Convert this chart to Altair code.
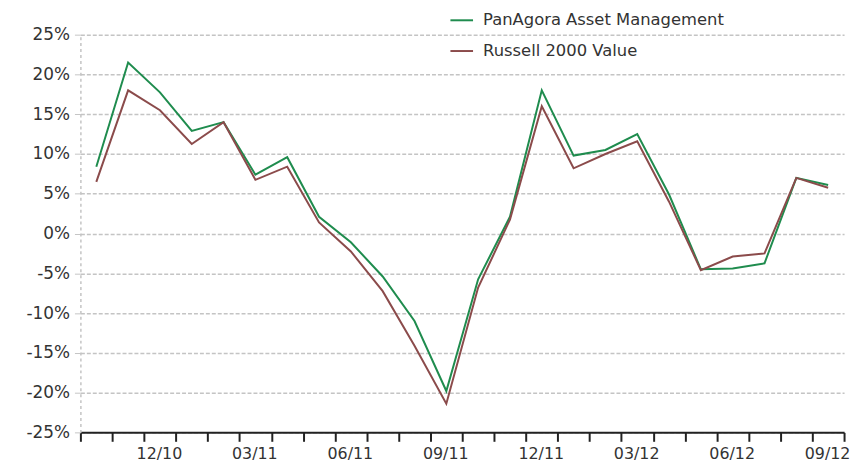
import altair as alt
import pandas as pd

months = ["10/10", "11/10", "12/10", "01/11", "02/11", "03/11", "04/11", "05/11",
          "06/11", "07/11", "08/11", "09/11", "10/11", "11/11", "12/11", "01/12",
          "02/12", "03/12", "04/12", "05/12", "06/12", "07/12", "08/12", "09/12"]
panagora = [8.4, 21.5, 17.75, 12.9, 14.0, 7.4, 9.6, 2.1, -1.1, -5.4, -11.0, -19.8,
            -5.75, 2.1, 18.0, 9.8, 10.5, 12.5, 4.9, -4.5, -4.4, -3.75, 7.0, 6.1]
russell = [6.5, 18.0, 15.5, 11.25, 14.0, 6.75, 8.4, 1.4, -2.25, -7.25, -14.1, -21.4,
           -6.8, 1.75, 16.0, 8.2, 10.0, 11.6, 4.0, -4.6, -2.9, -2.5, 7.0, 5.75]
series_names = ["PanAgora Asset Management", "Russell 2000 Value"]
series_colors = ["#1f8c4e", "#8b4b4b"]
label_months = ["12/10", "03/11", "06/11", "09/11", "12/11", "03/12", "06/12", "09/12"]

rows = []
for name, vals in zip(series_names, [panagora, russell]):
    for i, (m, v) in enumerate(zip(months, vals)):
        rows.append({"series": name, "month": m, "pos": i + 0.5, "value": v})
df = pd.DataFrame(rows)

label_map = {months.index(m): m for m in label_months}
label_expr = " : ".join(
    [f"datum.value == {k} ? '{v}'" for k, v in label_map.items()] + ["''"])

FONT = "DejaVu Sans"

chart = alt.Chart(df).mark_line(strokeWidth=2).encode(
    x=alt.X("pos:Q",
            scale=alt.Scale(domain=[0, len(months)], nice=False, zero=False),
            axis=alt.Axis(values=list(range(len(months) + 1)), labelExpr=label_expr,
                          labelOffset=15, title=None, grid=False,
                          domainColor="#222", domainWidth=2, tickColor="#222",
                          tickWidth=2, tickSize=9, labelFont=FONT, labelFontSize=16,
                          labelColor="#333", labelPadding=4, labelFlush=False)),
    y=alt.Y("value:Q",
            scale=alt.Scale(domain=[-25, 25], nice=False),
            axis=alt.Axis(values=list(range(-25, 26, 5)), labelExpr="datum.value + '%'",
                          title=None, grid=True, gridColor="#c4c4c4", gridDash=[4, 2],
                          gridWidth=1.5, domainColor="#c4c4c4", domainDash=[3, 3],
                          domainWidth=1.5, tickColor="#c4c4c4", tickSize=6,
                          labelFont=FONT, labelFontSize=17, labelColor="#333",
                          labelPadding=5)),
    color=alt.Color("series:N",
                    scale=alt.Scale(domain=series_names, range=series_colors),
                    legend=alt.Legend(title=None, orient="none", legendX=372, legendY=-27,
                                      symbolType="stroke", symbolSize=520,
                                      symbolStrokeWidth=2, labelFont=FONT,
                                      labelFontSize=16.5, labelColor="#333",
                                      labelLimit=0, rowPadding=10, labelOffset=9)),
    order="pos:Q",
).properties(
    width=770, height=401,
    autosize=alt.AutoSizeParams(type="none"),
    padding={"left": 73, "top": 25, "right": 7, "bottom": 30},
).configure_view(stroke=None)

chart.save("out.html", embed_options={"renderer": "svg", "actions": False})
